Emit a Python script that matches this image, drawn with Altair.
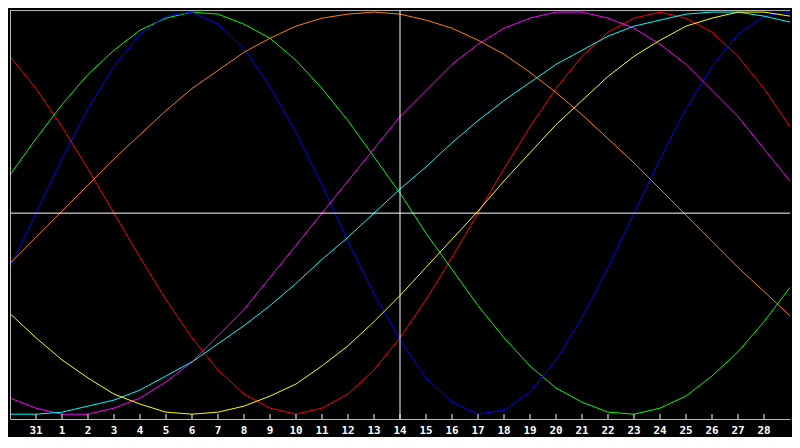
import altair as alt
import pandas as pd

# ---- data ----
day_index = [0, 1, 2, 3, 4, 5, 6, 7, 8, 9, 10, 11, 12, 13, 14, 15,
             16, 17, 18, 19, 20, 21, 22, 23, 24, 25, 26, 27, 28, 29, 30]
tick_index = [1, 2, 3, 4, 5, 6, 7, 8, 9, 10, 11, 12, 13, 14, 15,
              16, 17, 18, 19, 20, 21, 22, 23, 24, 25, 26, 27, 28, 29]
tick_labels = ["31", "1", "2", "3", "4", "5", "6", "7", "8", "9", "10", "11", "12", "13", "14",
               "15", "16", "17", "18", "19", "20", "21", "22", "23", "24", "25", "26", "27", "28"]
today_index = 15

physical = [-27, 0, 27, 52, 73, 89, 98, 100, 94, 82, 63, 40, 14, -14, -40, -63,
            -82, -94, -100, -98, -89, -73, -52, -27, 0, 27, 52, 73, 89, 98, 100]
emotional = [78, 62, 43, 22, 0, -22, -43, -62, -78, -90, -97, -100, -97, -90, -78, -62,
             -43, -22, 0, 22, 43, 62, 78, 90, 97, 100, 97, 90, 78, 62, 43]
intellectual = [19, 37, 54, 69, 81, 91, 97, 100, 99, 94, 87, 76, 62, 46, 28, 10,
                -10, -28, -46, -62, -76, -87, -94, -99, -100, -97, -91, -81, -69, -54, -37]
intuitive = [-92, -97, -100, -100, -97, -92, -84, -74, -61, -48, -32, -16, 0, 16, 32, 48,
             61, 74, 84, 92, 97, 100, 100, 97, 92, 84, 74, 61, 48, 32, 16]
aesthetic = [-50, -62, -73, -82, -90, -95, -99, -100, -99, -96, -91, -85, -76, -66, -54, -41,
             -27, -13, 1, 16, 30, 44, 56, 68, 78, 86, 93, 97, 100, 100, 98]
awareness = [-25, -12, 1, 14, 27, 39, 51, 62, 71, 80, 87, 93, 97, 99, 100, 99,
             96, 92, 86, 79, 70, 60, 49, 37, 25, 12, -1, -14, -27, -39, -51]
spiritual = [-100, -100, -99, -96, -93, -88, -81, -74, -65, -56, -46, -35, -23, -12, 0, 12,
             23, 35, 46, 56, 65, 74, 81, 88, 93, 96, 99, 100, 100, 98, 95]

series_names = ["Emotional", "Intellectual", "Physical", "Awareness",
                "Intuitive", "Spiritual", "Aesthetic"]
series_values = [emotional, intellectual, physical, awareness,
                 intuitive, spiritual, aesthetic]
series_colors = ["#ff0000", "#00ff00", "#0000ff", "#ff8000",
                 "#ff00ff", "#00ffff", "#ffff00"]

rows = []
for name, vals in zip(series_names, series_values):
    for d, v in zip(day_index, vals):
        rows.append({"day": d, "value": v, "series": name})
df = pd.DataFrame(rows)
ticks_df = pd.DataFrame({"day": tick_index, "label": tick_labels})

W = 784
H = 411

x_scale = alt.Scale(domain=[0, 30], nice=False, zero=False)
y_scale = alt.Scale(domain=[-102.4, 101], nice=False, zero=False)

x_axis = alt.Axis(
    values=tick_index, title=None, grid=False, labels=False,
    ticks=False, domain=True, domainColor="#c0c0c0", domainWidth=1,
)

lines = alt.Chart(df).mark_line(strokeWidth=1, interpolate="linear").encode(
    x=alt.X("day:Q", scale=x_scale, axis=x_axis),
    y=alt.Y("value:Q", scale=y_scale, axis=None),
    color=alt.Color("series:N", scale=alt.Scale(domain=series_names, range=series_colors),
                    legend=None),
    order=alt.Order("day:Q"),
)

ticks = alt.Chart(ticks_df).mark_rule(color="#ffffff", strokeWidth=1).encode(
    x=alt.X("day:Q", scale=x_scale),
    y=alt.value(H - 5),
    y2=alt.value(H),
)

labels = alt.Chart(ticks_df).mark_text(
    color="#ffffff", font="DejaVu Sans Mono", fontSize=11, fontWeight="bold",
    baseline="top", align="center",
).encode(
    x=alt.X("day:Q", scale=x_scale),
    y=alt.value(H + 6),
    text="label:N",
)

h_line = alt.Chart(pd.DataFrame({"v": [0]})).mark_rule(color="#ffffff", strokeWidth=1).encode(
    y=alt.Y("v:Q", scale=y_scale),
    x=alt.value(0),
    x2=alt.value(W),
)

v_line = alt.Chart(pd.DataFrame({"d": [today_index]})).mark_rule(color="#ffffff", strokeWidth=1).encode(
    x=alt.X("d:Q", scale=x_scale),
    y=alt.value(0),
    y2=alt.value(H),
)

left_border = alt.Chart(pd.DataFrame({"d": [0]})).mark_rule(color="#c0c0c0", strokeWidth=1).encode(
    x=alt.value(0.5), y=alt.value(0), y2=alt.value(H),
)
top_border = alt.Chart(pd.DataFrame({"d": [0]})).mark_rule(color="#c0c0c0", strokeWidth=1).encode(
    y=alt.value(0.5), x=alt.value(0), x2=alt.value(W),
)

chart = alt.layer(lines, ticks, labels, h_line, v_line, left_border, top_border).properties(
    width=W, height=H, background="#000000", padding=0,
).configure_view(stroke=None, fill="#000000")

chart.save("out.html", embed_options={"renderer": "svg", "actions": False})
